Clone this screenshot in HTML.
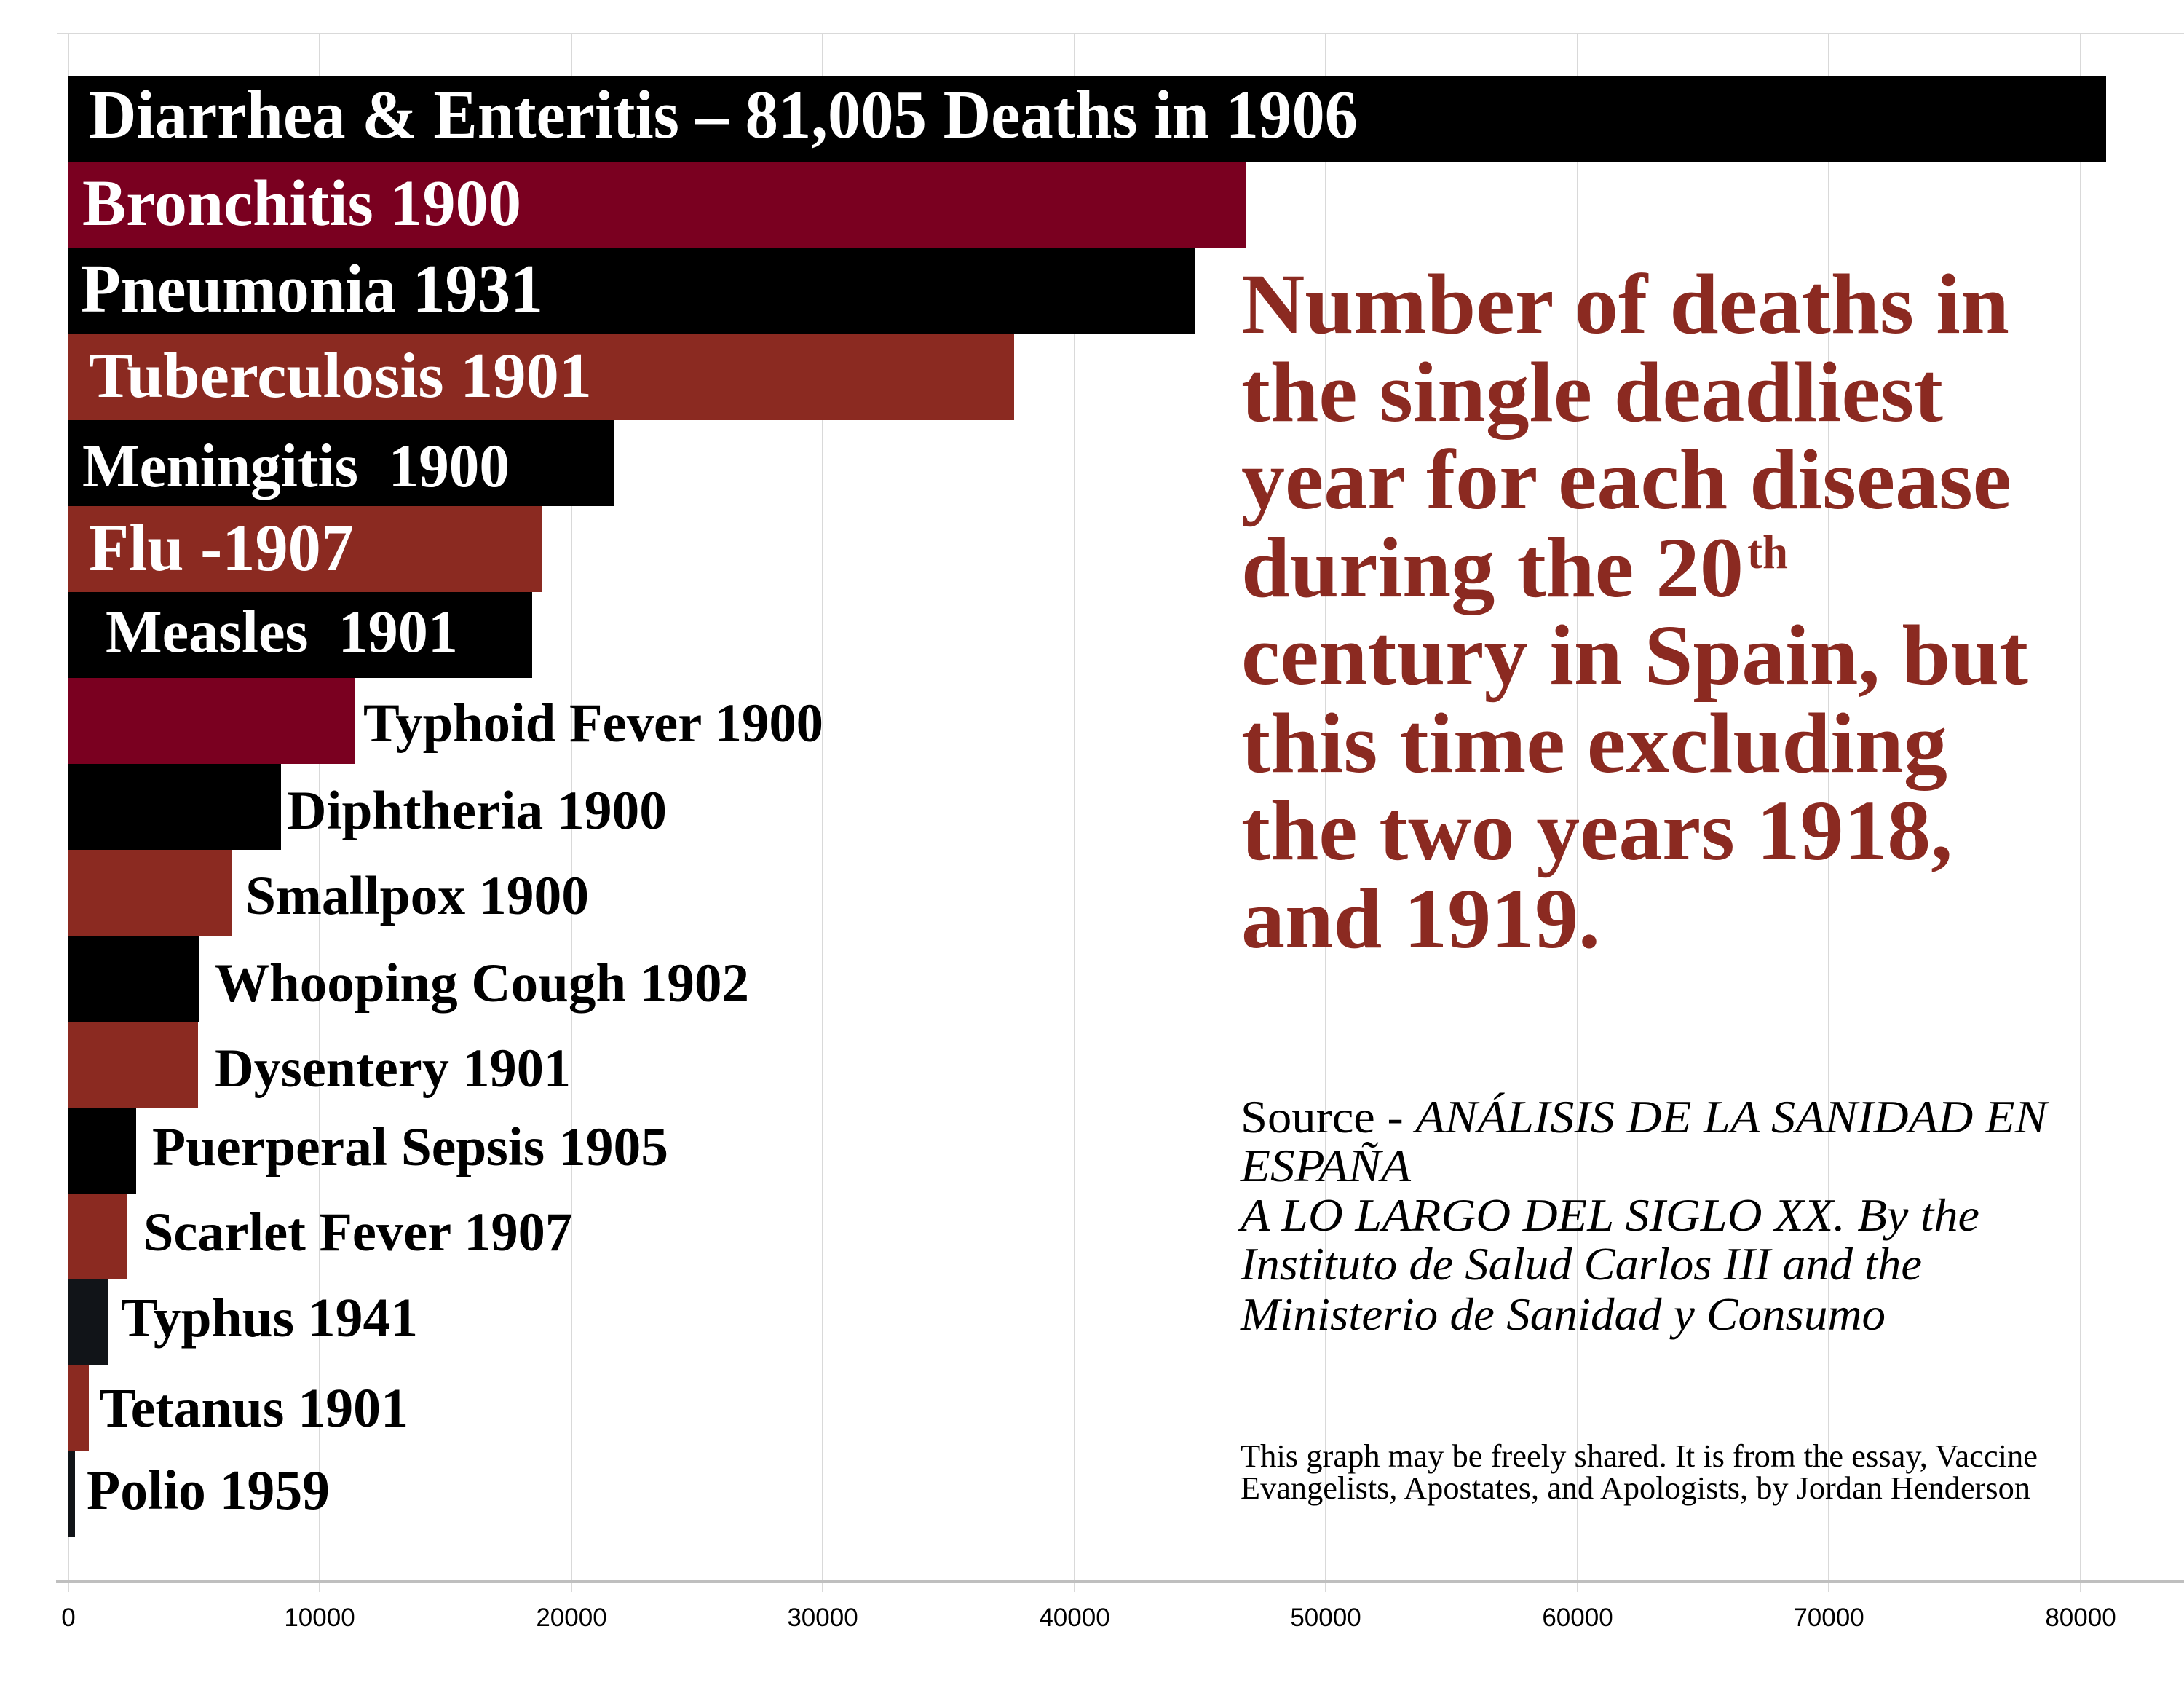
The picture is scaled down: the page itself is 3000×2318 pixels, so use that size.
<!DOCTYPE html>
<html><head><meta charset="utf-8"><style>
html,body{margin:0;padding:0;background:#fff;}
svg{display:block;}
</style></head><body>
<svg width="3000" height="2318" viewBox="0 0 3000 2318" xmlns="http://www.w3.org/2000/svg">
<rect width="3000" height="2318" fill="#fff"/>
<g stroke="#d9d9d9" stroke-width="2">
<line x1="78" y1="46" x2="3000" y2="46"/>
<line x1="94" y1="46" x2="94" y2="2186"/>
<line x1="439" y1="46" x2="439" y2="2186"/>
<line x1="785" y1="46" x2="785" y2="2186"/>
<line x1="1130" y1="46" x2="1130" y2="2186"/>
<line x1="1476" y1="46" x2="1476" y2="2186"/>
<line x1="1821" y1="46" x2="1821" y2="2186"/>
<line x1="2167" y1="46" x2="2167" y2="2186"/>
<line x1="2512" y1="46" x2="2512" y2="2186"/>
<line x1="2858" y1="46" x2="2858" y2="2186"/>
</g>
<line x1="77" y1="2172" x2="3000" y2="2172" stroke="#bfbfbf" stroke-width="4"/>
<g font-family="Liberation Sans, Arial, sans-serif" font-size="35" fill="#000" text-anchor="middle">
<text x="94" y="2233">0</text>
<text x="439" y="2233">10000</text>
<text x="785" y="2233">20000</text>
<text x="1130" y="2233">30000</text>
<text x="1476" y="2233">40000</text>
<text x="1821" y="2233">50000</text>
<text x="2167" y="2233">60000</text>
<text x="2512" y="2233">70000</text>
<text x="2858" y="2233">80000</text>
</g>
<g>
<rect x="94" y="105" width="2799" height="118" fill="#000"/>
<rect x="94" y="223" width="1618" height="118" fill="#7a0020"/>
<rect x="94" y="341" width="1548" height="118" fill="#000"/>
<rect x="94" y="459" width="1299" height="118" fill="#8b2a21"/>
<rect x="94" y="577" width="750" height="118" fill="#000"/>
<rect x="94" y="695" width="651" height="118" fill="#8b2a21"/>
<rect x="94" y="813" width="637" height="118" fill="#000"/>
<rect x="94" y="931" width="394" height="118" fill="#7a0020"/>
<rect x="94" y="1049" width="292" height="118" fill="#000"/>
<rect x="94" y="1167" width="224" height="118" fill="#8b2a21"/>
<rect x="94" y="1285" width="179" height="118" fill="#000"/>
<rect x="94" y="1403" width="178" height="118" fill="#8b2a21"/>
<rect x="94" y="1521" width="93" height="118" fill="#000"/>
<rect x="94" y="1639" width="80" height="118" fill="#8b2a21"/>
<rect x="94" y="1757" width="55" height="118" fill="#111418"/>
<rect x="94" y="1875" width="28" height="118" fill="#8b2a21"/>
<rect x="94" y="1993" width="9" height="118" fill="#111418"/>
</g>
<g font-family="Liberation Serif, 'Times New Roman', serif" font-weight="bold">
<text x="122" y="189" font-size="94" fill="#fff" textLength="1743" lengthAdjust="spacingAndGlyphs">Diarrhea &amp; Enteritis – 81,005 Deaths in 1906</text>
<text x="113" y="309" font-size="90" fill="#fff" textLength="603" lengthAdjust="spacingAndGlyphs">Bronchitis 1900</text>
<text x="111" y="428" font-size="94" fill="#fff" textLength="635" lengthAdjust="spacingAndGlyphs">Pneumonia 1931</text>
<text x="122" y="545" font-size="88" fill="#fff" textLength="691" lengthAdjust="spacingAndGlyphs">Tuberculosis 1901</text>
<text x="113" y="668" font-size="85" fill="#fff" textLength="587" lengthAdjust="spacingAndGlyphs" xml:space="preserve">Meningitis  1900</text>
<text x="122" y="783" font-size="92" fill="#fff" textLength="364" lengthAdjust="spacingAndGlyphs">Flu -1907</text>
<text x="145" y="895" font-size="83" fill="#fff" textLength="484" lengthAdjust="spacingAndGlyphs" xml:space="preserve">Measles  1901</text>
<text x="499" y="1018" font-size="75" fill="#000" textLength="632" lengthAdjust="spacingAndGlyphs">Typhoid Fever 1900</text>
<text x="394" y="1138" font-size="75" fill="#000" textLength="522" lengthAdjust="spacingAndGlyphs">Diphtheria 1900</text>
<text x="337" y="1255" font-size="75" fill="#000" textLength="472" lengthAdjust="spacingAndGlyphs">Smallpox 1900</text>
<text x="295" y="1375" font-size="75" fill="#000" textLength="734" lengthAdjust="spacingAndGlyphs">Whooping Cough 1902</text>
<text x="295" y="1492" font-size="75" fill="#000" textLength="489" lengthAdjust="spacingAndGlyphs">Dysentery 1901</text>
<text x="209" y="1600" font-size="75" fill="#000" textLength="709" lengthAdjust="spacingAndGlyphs">Puerperal Sepsis 1905</text>
<text x="197" y="1717" font-size="75" fill="#000" textLength="589" lengthAdjust="spacingAndGlyphs">Scarlet Fever 1907</text>
<text x="166" y="1835" font-size="76" fill="#000" textLength="408" lengthAdjust="spacingAndGlyphs">Typhus 1941</text>
<text x="136" y="1959" font-size="76" fill="#000" textLength="425" lengthAdjust="spacingAndGlyphs">Tetanus 1901</text>
<text x="119" y="2072" font-size="77" fill="#000" textLength="334" lengthAdjust="spacingAndGlyphs">Polio 1959</text>
</g>
<g font-family="Liberation Serif, 'Times New Roman', serif" font-weight="bold" font-size="118" fill="#8b2a21">
<text x="1705" y="457" textLength="1055" lengthAdjust="spacingAndGlyphs">Number of deaths in</text>
<text x="1705" y="578" textLength="964" lengthAdjust="spacingAndGlyphs">the single deadliest</text>
<text x="1705" y="698" textLength="1058" lengthAdjust="spacingAndGlyphs">year for each disease</text>
<text x="1705" y="819" textLength="690" lengthAdjust="spacingAndGlyphs">during the 20</text>
<text x="2400" y="780" font-size="66" textLength="56" lengthAdjust="spacingAndGlyphs">th</text>
<text x="1705" y="939" textLength="1081" lengthAdjust="spacingAndGlyphs">century in Spain, but</text>
<text x="1705" y="1060" textLength="970" lengthAdjust="spacingAndGlyphs">this time excluding</text>
<text x="1705" y="1180" textLength="977" lengthAdjust="spacingAndGlyphs">the two years 1918,</text>
<text x="1705" y="1301" textLength="493" lengthAdjust="spacingAndGlyphs">and 1919.</text>
</g>
<g font-family="Liberation Serif, 'Times New Roman', serif" font-size="64" fill="#000">
<text x="1704" y="1555" textLength="1108" lengthAdjust="spacingAndGlyphs">Source - <tspan font-style="italic">ANÁLISIS DE LA SANIDAD EN</tspan></text>
<text x="1704" y="1622" font-style="italic" textLength="234" lengthAdjust="spacingAndGlyphs">ESPAÑA</text>
<text x="1704" y="1690" font-style="italic" textLength="1015" lengthAdjust="spacingAndGlyphs">A LO LARGO DEL SIGLO XX. By the</text>
<text x="1704" y="1757" font-style="italic" textLength="936" lengthAdjust="spacingAndGlyphs">Instituto de Salud Carlos III and the</text>
<text x="1704" y="1826" font-style="italic" textLength="886" lengthAdjust="spacingAndGlyphs">Ministerio de Sanidad y Consumo</text>
</g>
<g font-family="Liberation Serif, 'Times New Roman', serif" font-size="44" fill="#000">
<text x="1704" y="2014" textLength="1095" lengthAdjust="spacingAndGlyphs">This graph may be freely shared. It is from the essay, Vaccine</text>
<text x="1704" y="2058" textLength="1085" lengthAdjust="spacingAndGlyphs">Evangelists, Apostates, and Apologists, by Jordan Henderson</text>
</g>
</svg>
</body></html>
